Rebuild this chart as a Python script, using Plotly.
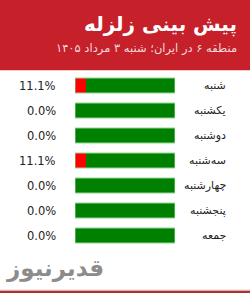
import plotly.graph_objects as go

days = ["شنبه", "یکشنبه", "دوشنبه", "سه‌شنبه", "چهارشنبه", "پنجشنبه", "جمعه"]
probs = [11.1, 0.0, 0.0, 11.1, 0.0, 0.0, 0.0]
title_text = "پیش بینی زلزله"
subtitle_text = "منطقه ۶ در ایران؛ شنبه ۳ مرداد ۱۴۰۵"
logo_text = "قدیرنیوز"

W, H = 250, 293
rest = [100 - p for p in probs]

fig = go.Figure()
fig.add_trace(go.Bar(y=days, x=probs, orientation="h", marker=dict(color="#ff0000", line=dict(width=0)),
                     width=0.6, hoverinfo="skip"))
fig.add_trace(go.Bar(y=days, x=rest, orientation="h", marker=dict(color="#008000", line=dict(width=0)),
                     width=0.6, hoverinfo="skip"))

annotations = []
for d, p in zip(days, probs):
    annotations.append(dict(x=58 / W, xref="paper", y=d, yref="y", text=f"{p:.1f}%", showarrow=False,
                            xanchor="right", yanchor="middle",
                            font=dict(family="DejaVu Sans", size=11.5, color="#222222")))
    annotations.append(dict(x=228 / W, xref="paper", y=d, yref="y", text=d, showarrow=False,
                            xanchor="right", yanchor="middle",
                            font=dict(family="DejaVu Sans", size=11, color="#222222")))

annotations.append(dict(x=239 / W, xref="paper", y=1 - 24 / H, yref="paper", text="<b>" + title_text + "</b>",
                        showarrow=False, xanchor="right", yanchor="middle",
                        font=dict(family="DejaVu Sans", size=20, color="#ffffff")))
annotations.append(dict(x=239 / W, xref="paper", y=1 - 48 / H, yref="paper", text=subtitle_text,
                        showarrow=False, xanchor="right", yanchor="middle",
                        font=dict(family="DejaVu Sans", size=11.5, color="#f3dada")))
annotations.append(dict(x=4 / W, xref="paper", y=1 - 268 / H, yref="paper", text="<b>" + logo_text + "</b>",
                        showarrow=False, xanchor="left", yanchor="middle",
                        font=dict(family="DejaVu Sans", size=23, color="#8c8c8c")))

shapes = [
    dict(type="rect", xref="paper", yref="paper", x0=0, x1=1, y0=1 - 70 / H, y1=1,
         fillcolor="#c6202a", line=dict(width=0), layer="below"),
    dict(type="rect", xref="paper", yref="paper", x0=0, x1=1, y0=1 - 71 / H, y1=1 - 70 / H,
         fillcolor="#f2c8c8", line=dict(width=0), layer="below"),
    dict(type="rect", xref="paper", yref="paper", x0=0, x1=1, y0=0, y1=2.5 / H,
         fillcolor="#a83232", line=dict(width=0), layer="above"),
    dict(type="rect", xref="paper", yref="paper", x0=0, x1=1, y0=2.5 / H, y1=3.5 / H,
         fillcolor="#f0cccc", line=dict(width=0), layer="above"),
]
for i, d in enumerate(days):
    shapes.append(dict(type="rect", xref="x", yref="y", x0=0, x1=100, y0=i - 0.3,
                       y1=i + 0.3, line=dict(color="#8fd88f", width=1), layer="above"))

fig.update_layout(
    width=W, height=H, margin=dict(l=0, r=0, t=0, b=0),
    paper_bgcolor="#ffffff", plot_bgcolor="rgba(0,0,0,0)",
    barmode="stack", showlegend=False, bargap=0,
    xaxis=dict(domain=[75 / W, 175 / W], range=[0, 100], visible=False, fixedrange=True),
    yaxis=dict(domain=[(H - 248) / H, (H - 73) / H], range=[6.5, -0.5], visible=False,
               categoryorder="array", categoryarray=days, fixedrange=True),
    annotations=annotations, shapes=shapes,
)
fig.write_html("out.html", config={"displayModeBar": False})
